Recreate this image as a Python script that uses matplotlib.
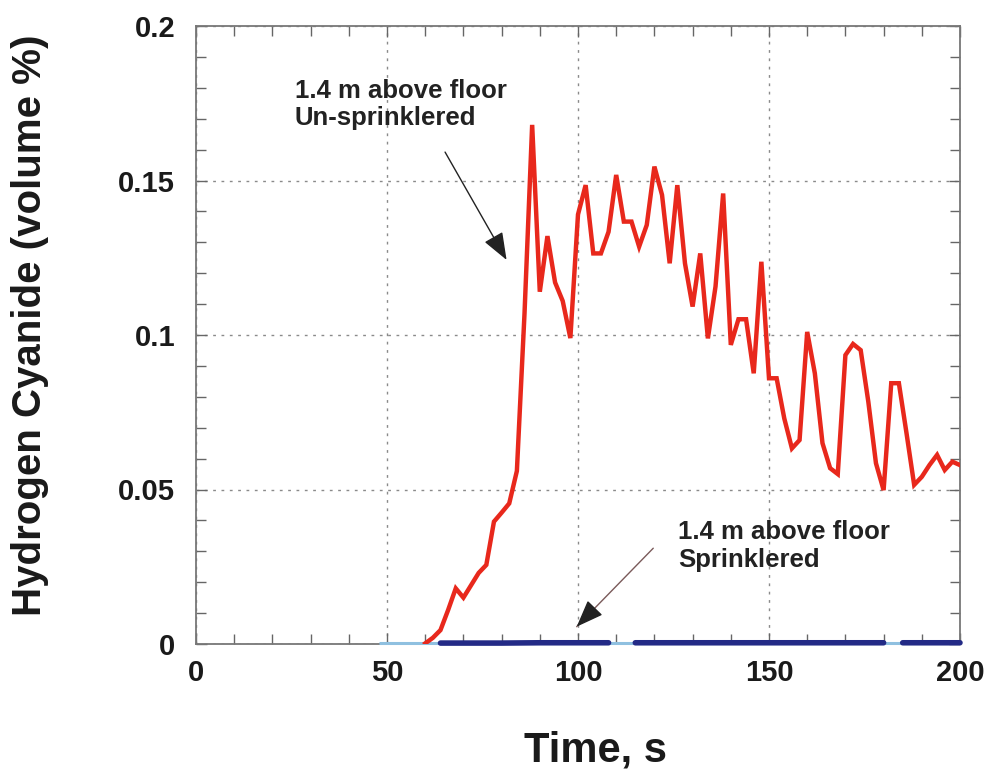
import numpy as np
import matplotlib
matplotlib.use("Agg")
import matplotlib.pyplot as plt
from matplotlib.ticker import MultipleLocator

# ---- data ----
unspr_time = [60, 62, 64, 66, 68, 70, 72, 74, 76, 78, 80, 82, 84, 86, 88, 90, 92, 94, 96, 98,
              100, 102, 104, 106, 108, 110, 112, 114, 116, 118, 120, 122, 124, 126, 128, 130,
              132, 134, 136, 138, 140, 142, 144, 146, 148, 150, 152, 154, 156, 158, 160, 162,
              164, 166, 168, 170, 172, 174, 176, 178, 180, 182, 184, 186, 188, 190, 192, 194,
              196, 198, 200]
unspr_hcn = [0.0002, 0.002, 0.0045, 0.011, 0.018, 0.015, 0.019, 0.023, 0.0256, 0.0396, 0.0425,
             0.0455, 0.056, 0.107, 0.168, 0.114, 0.132, 0.117, 0.111, 0.099,
             0.139, 0.1485, 0.1264, 0.1264, 0.1334, 0.1518, 0.1367, 0.1367, 0.1286, 0.1356,
             0.1545, 0.1453, 0.1232, 0.1485, 0.1232, 0.1092, 0.1264, 0.0989, 0.1157, 0.1458,
             0.0968, 0.1051, 0.1051, 0.0876, 0.1237, 0.086, 0.086, 0.073, 0.0633, 0.066,
             0.101, 0.0876, 0.065, 0.0569, 0.055, 0.0935, 0.0971, 0.0951, 0.0784, 0.0585,
             0.0498, 0.0844, 0.0844, 0.0682, 0.0515, 0.0541, 0.0579, 0.0612, 0.0563, 0.059,
             0.0579]

base_time = [48, 200]
base_hcn = [0.0004, 0.0004]

spr_time = [64, 70, 80, 90, 100, 108, 109, 114, 115, 120, 130, 140, 150, 160, 170, 180, 181,
            184, 185, 190, 200]
spr_hcn = [0.0003, 0.0003, 0.0003, 0.0004, 0.0004, 0.0004, np.nan, np.nan, 0.0004, 0.0004,
           0.0004, 0.0004, 0.0004, 0.0004, 0.0004, 0.0004, np.nan, np.nan, 0.0004, 0.0004,
           0.0004]

x_ticks = [0, 50, 100, 150, 200]
x_labels = ["0", "50", "100", "150", "200"]
y_ticks = [0, 0.05, 0.1, 0.15, 0.2]
y_labels = ["0", "0.05", "0.1", "0.15", "0.2"]

plt.rcParams['font.family'] = ['Liberation Sans', 'DejaVu Sans']

W, H = 987, 771
fig = plt.figure(figsize=(W/100, H/100), dpi=100)
ax = fig.add_axes([196/W, 1-644/H, (960-196)/W, (644-26)/H])

ax.plot(base_time, base_hcn, color='#8fc0e0', lw=2.2, zorder=6, clip_on=False,
        solid_capstyle='butt')
ax.plot(spr_time, spr_hcn, color='#232a86', lw=4.0, zorder=7, clip_on=False,
        solid_capstyle='round')
ax.plot(unspr_time, unspr_hcn, color='#e8281c', lw=3.2, zorder=8, solid_joinstyle='miter')

ax.set_xlim(0, 200)
ax.set_ylim(0, 0.2)
ax.set_xticks(x_ticks)
ax.set_xticklabels(x_labels)
ax.set_yticks(y_ticks)
ax.set_yticklabels(y_labels)
ax.xaxis.set_minor_locator(MultipleLocator(10))
ax.yaxis.set_minor_locator(MultipleLocator(0.01))

ax.grid(True, which='major', color='#8a8a8a', linestyle=(0, (2, 4)), linewidth=1.0, zorder=1)

for s in ax.spines.values():
    s.set_color('#777777')
    s.set_linewidth(1.3)

ax.tick_params(which='both', direction='in', top=True, right=True, color='#666666', width=1.0)
ax.tick_params(which='major', length=8)
ax.tick_params(which='minor', length=7)
ax.tick_params(axis='y', which='major', labelsize=21, pad=15, labelcolor='#1a1a1a')
ax.tick_params(axis='x', which='major', labelsize=21, pad=11, labelcolor='#1a1a1a')
for lab in ax.get_xticklabels() + ax.get_yticklabels():
    lab.set_fontweight('bold')

fig.text(596/W, 1-761/H, "Time, s", fontsize=30, fontweight='bold', color='#1a1a1a',
         ha='center', va='baseline')
fig.text(30/W, 1-325/H, "Hydrogen Cyanide (volume %)", fontsize=29, fontweight='bold',
         color='#1a1a1a', rotation=90, ha='center', va='center')

ax.annotate("", xy=(81.3, 0.1243), xytext=(65.2, 0.1592),
            arrowprops=dict(arrowstyle='-|>,head_length=1.7,head_width=0.65', color='#222222',
                            lw=1.0, shrinkA=0, shrinkB=0))
ax.text(25.9, 0.183, "1.4 m above floor\nUn-sprinklered", fontsize=18.5, fontweight='bold',
        color='#222222', va='top', ha='left', linespacing=1.2)

ax.annotate("", xy=(99.65, 0.0056), xytext=(119.7, 0.031),
            arrowprops=dict(arrowstyle='-', color='#7a5a5a', lw=1.0, shrinkA=0, shrinkB=0))
ax.annotate("", xy=(99.65, 0.0056), xytext=(103.5, 0.0105),
            arrowprops=dict(arrowstyle='-|>,head_length=1.7,head_width=0.65', color='#222222',
                            lw=1.0, shrinkA=0, shrinkB=0))
ax.text(126.2, 0.040, "1.4 m above floor\nSprinklered", fontsize=18.5, fontweight='bold',
        color='#222222', va='top', ha='left', linespacing=1.2)

fig.savefig("out.png", dpi=100)
